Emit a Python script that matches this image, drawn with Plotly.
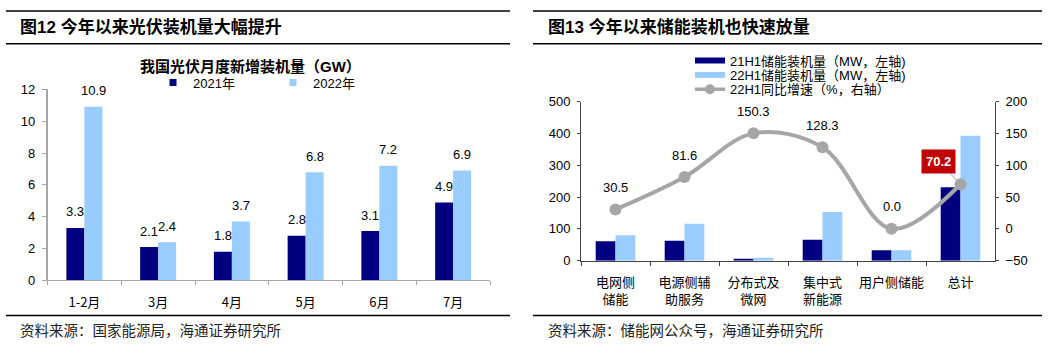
import plotly.graph_objects as go

# ---------------- data ----------------
pv_months = ["1-2月", "3月", "4月", "5月", "6月", "7月"]
pv_2021 = [3.3, 2.1, 1.8, 2.8, 3.1, 4.9]
pv_2022 = [10.9, 2.4, 3.7, 6.8, 7.2, 6.9]

storage_categories = ["电网侧储能", "电源侧辅助服务", "分布式及微网", "集中式新能源", "用户侧储能", "总计"]
storage_tick_labels = ["电网侧<br>储能", "电源侧辅<br>助服务", "分布式及<br>微网", "集中式<br>新能源", "用户侧储能", "总计"]
storage_21h1 = [61, 63, 4, 66, 33, 231]
storage_22h1 = [80, 116, 9, 153, 33, 393]
growth_22h1 = [30.5, 81.6, 150.3, 128.3, 0.0, 70.2]
highlight_index = 5

# ---------------- style ----------------
W, H = 1055, 350
NAVY = "#000080"
LIGHT = "#99CCFF"
GREY = "#A6A6A6"
FONT = "Liberation Sans, Arial, Noto Sans CJK SC"
CJK = "Noto Sans CJK SC, Liberation Sans"


def px_x(p):
    return p / W


def px_y(p):
    return 1 - p / H


fig = go.Figure()

# left chart bars
lw = 0.244
fig.add_trace(go.Bar(x=pv_months, y=pv_2021, width=lw, offset=-lw, marker=dict(color=NAVY, line=dict(width=0)),
                     xaxis="x", yaxis="y", showlegend=False))
fig.add_trace(go.Bar(x=pv_months, y=pv_2022, width=lw, offset=0, marker=dict(color=LIGHT, line=dict(width=0)),
                     xaxis="x", yaxis="y", showlegend=False))

# right chart bars
rw = 0.287
fig.add_trace(go.Bar(x=storage_categories, y=storage_21h1, width=rw, offset=-rw,
                     marker=dict(color=NAVY, line=dict(width=0)), xaxis="x2", yaxis="y2", showlegend=False))
fig.add_trace(go.Bar(x=storage_categories, y=storage_22h1, width=rw, offset=0,
                     marker=dict(color=LIGHT, line=dict(width=0)), xaxis="x2", yaxis="y2", showlegend=False))
fig.add_trace(go.Scatter(x=storage_categories, y=growth_22h1, mode="lines+markers",
                         line=dict(color=GREY, width=4, shape="spline", smoothing=1.0),
                         marker=dict(color=GREY, size=12), xaxis="x2", yaxis="y3", showlegend=False))

# legend proxies
fig.add_trace(go.Scatter(x=[None], y=[None], mode="markers", name="2021年",
                         marker=dict(symbol="square", size=7, color=NAVY), legend="legend", xaxis="x", yaxis="y"))
fig.add_trace(go.Scatter(x=[None], y=[None], mode="markers", name="2022年",
                         marker=dict(symbol="square", size=7, color=LIGHT), legend="legend2", xaxis="x", yaxis="y"))
fig.add_trace(go.Scatter(x=[None], y=[None], mode="lines", name="21H1储能装机量（MW，左轴)",
                         line=dict(color=NAVY, width=6), legend="legend3", xaxis="x2", yaxis="y2"))
fig.add_trace(go.Scatter(x=[None], y=[None], mode="lines", name="22H1储能装机量（MW，左轴)",
                         line=dict(color=LIGHT, width=6), legend="legend4", xaxis="x2", yaxis="y2"))
fig.add_trace(go.Scatter(x=[None], y=[None], mode="lines+markers", name="22H1同比增速（%，右轴）",
                         line=dict(color=GREY, width=3.5), marker=dict(color=GREY, size=10),
                         legend="legend5", xaxis="x2", yaxis="y3"))

annotations = []
# left data labels
for i, v in enumerate(pv_2021):
    annotations.append(dict(x=i - lw / 2, y=v, xref="x", yref="y", text=f"{v:.1f}", showarrow=False,
                            yshift=16, font=dict(family=FONT, size=13, color="#000")))
for i, v in enumerate(pv_2022):
    annotations.append(dict(x=i + lw / 2, y=v, xref="x", yref="y", text=f"{v:.1f}", showarrow=False,
                            yshift=16, font=dict(family=FONT, size=13, color="#000")))
# right growth labels
for i, v in enumerate(growth_22h1):
    if i == highlight_index:
        annotations.append(dict(x=storage_categories[i], y=v, xref="x2", yref="y3", text=f"<b>{v:.1f}</b>",
                                showarrow=True, arrowhead=0, arrowwidth=1, arrowcolor="#A0A0A0",
                                ax=-22, ay=-23, bgcolor="#C00000", borderpad=4,
                                font=dict(family=FONT, size=13, color="#FFFFFF")))
    else:
        annotations.append(dict(x=storage_categories[i], y=v, xref="x2", yref="y3", text=f"{v:.1f}",
                                showarrow=False, yshift=22, font=dict(family=FONT, size=13, color="#000")))

# titles & sources
annotations += [
    dict(x=px_x(18), y=px_y(21), xref="paper", yref="paper", xanchor="left", yanchor="middle", showarrow=False,
         text="<b>图12 今年以来光伏装机量大幅提升</b>", font=dict(family=FONT, size=17, color="#000")),
    dict(x=px_x(546), y=px_y(21), xref="paper", yref="paper", xanchor="left", yanchor="middle", showarrow=False,
         text="<b>图13 今年以来储能装机也快速放量</b>", font=dict(family=FONT, size=17, color="#000")),
    dict(x=px_x(250.5), y=px_y(61.7), xref="paper", yref="paper", xanchor="center", yanchor="middle",
         showarrow=False, text="<b>我国光伏月度新增装机量（GW）</b>", font=dict(family=FONT, size=15, color="#000")),
    dict(x=px_x(18), y=px_y(336.5), xref="paper", yref="paper", xanchor="left", yanchor="middle", showarrow=False,
         text="资料来源：国家能源局，海通证券研究所", font=dict(family=CJK, size=14.5, color="#222")),
    dict(x=px_x(546), y=px_y(336.5), xref="paper", yref="paper", xanchor="left", yanchor="middle", showarrow=False,
         text="资料来源：储能网公众号，海通证券研究所", font=dict(family=CJK, size=14.5, color="#222")),
]

shapes = []
for y in (4.3, 38.3, 322.3):
    for x0, x1 in ((6, 510), (533, 1042)):
        shapes.append(dict(type="line", xref="paper", yref="paper", x0=px_x(x0), x1=px_x(x1),
                           y0=px_y(y), y1=px_y(y), line=dict(color="#000", width=1.5)))

tick_font = dict(family=FONT, size=13, color="#000")
cjk_tick_font = dict(family=CJK, size=13, color="#000")


def leg(xp, yp):
    return dict(x=px_x(xp), y=px_y(yp), xanchor="left", yanchor="middle", orientation="h",
                bgcolor="rgba(0,0,0,0)", borderwidth=0, font=dict(family=FONT, size=13, color="#000"),
                itemwidth=30)


fig.update_layout(
    width=W, height=H, margin=dict(l=0, r=0, t=0, b=0),
    paper_bgcolor="white", plot_bgcolor="white",
    showlegend=True,
    legend=leg(153, 79), legend2=leg(273, 79),
    legend3=leg(690, 56), legend4=leg(690, 71), legend5=leg(690, 86),
    xaxis=dict(domain=[px_x(47.5), px_x(490)], anchor="y", type="category", showline=True, linecolor=GREY,
               linewidth=1, ticks="outside", tickson="boundaries", ticklen=4, tickcolor=GREY,
               showgrid=False, tickfont=cjk_tick_font, tickangle=0, ticklabelstandoff=10, fixedrange=True),
    yaxis=dict(domain=[px_y(285.7), px_y(86)], anchor="x", range=[0, 12], dtick=2, showline=True,
               linecolor=GREY, linewidth=1.5, ticks="outside", ticklen=4, tickcolor=GREY, showgrid=False,
               zeroline=False, tickfont=tick_font, ticklabelstandoff=4),
    xaxis2=dict(domain=[px_x(581), px_x(995)], anchor="y2", type="category", showline=True, linecolor="#404040",
                linewidth=1, ticks="outside", tickson="boundaries", ticklen=4, tickcolor="#404040",
                showgrid=False, tickvals=storage_categories, ticktext=storage_tick_labels,
                tickfont=cjk_tick_font, tickangle=0, ticklabelstandoff=10),
    yaxis2=dict(domain=[px_y(265), px_y(99)], anchor="x2", range=[0, 500], dtick=100, showline=True,
                linecolor="#404040", linewidth=1, ticks="outside", ticklen=3, tickcolor="#404040",
                showgrid=False, zeroline=False, tickfont=tick_font, ticklabelstandoff=4),
    yaxis3=dict(overlaying="y2", anchor="x2", side="right", range=[-50, 200], dtick=50, showline=True,
                linecolor="#404040", linewidth=1, ticks="outside", ticklen=3, tickcolor="#404040",
                showgrid=False, zeroline=False, tickfont=tick_font, ticklabelstandoff=4),
    annotations=annotations, shapes=shapes,
)

fig.write_html("out.html")
